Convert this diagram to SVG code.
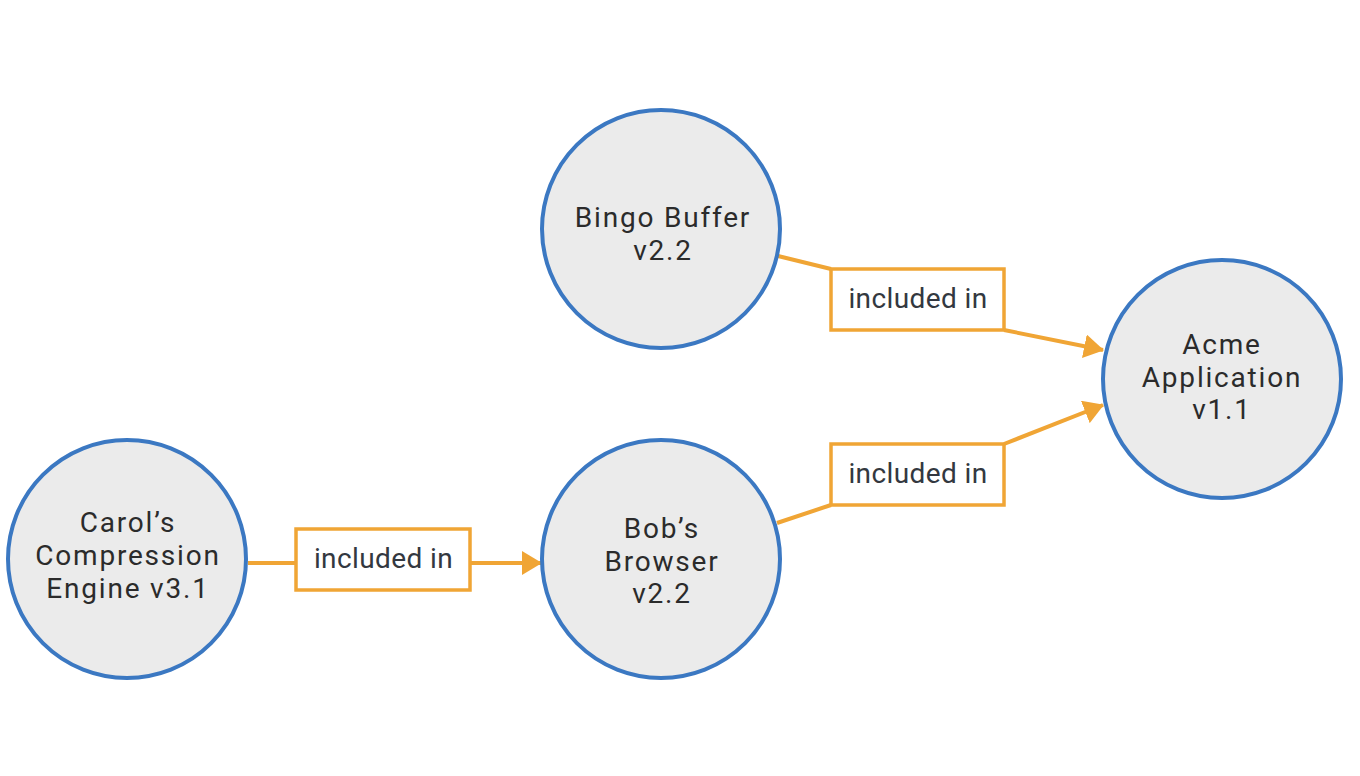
<svg xmlns="http://www.w3.org/2000/svg" width="1360" height="776" viewBox="0 0 1360 776">
  <style>
    .node circle { fill: #ebebeb; stroke: #3b78c2; stroke-width: 4; }
    .node text { font-family: Roboto, "Liberation Sans", sans-serif; font-size: 28px; letter-spacing: 1.8px; fill: #2b2b2b; text-anchor: middle; }
    .edge { fill: none; stroke: #f0a535; stroke-width: 4; }
    .lbl rect { fill: #ffffff; stroke: #f0a535; stroke-width: 3.5; }
    .lbl text { font-family: Roboto, "Liberation Sans", sans-serif; font-size: 28px; letter-spacing: 0.4px; fill: #333840; text-anchor: middle; }
  </style>
  <defs>
    <marker id="arrow" markerUnits="userSpaceOnUse" markerWidth="20" markerHeight="24" viewBox="0 0 20 24" refX="19" refY="12" orient="auto">
      <path d="M0,0 L20,12 L0,24 Z" fill="#f0a535"/>
    </marker>
  </defs>
  <rect width="1360" height="776" fill="#ffffff"/>

  <g id="connectors">
    <polyline class="edge" points="778,256 831,269"/>
    <polyline class="edge" points="1004,330 1103,350" marker-end="url(#arrow)"/>
    <polyline class="edge" points="777,523 831,505"/>
    <polyline class="edge" points="1004,444 1103,405" marker-end="url(#arrow)"/>
    <polyline class="edge" points="248,563 296,563"/>
    <polyline class="edge" points="470,563 541,563" marker-end="url(#arrow)"/>
    <g class="lbl">
      <rect x="831" y="269" width="173" height="61"/>
      <text x="918" y="308">included in</text>
    </g>
    <g class="lbl">
      <rect x="831" y="444" width="173" height="61"/>
      <text x="918" y="483">included in</text>
    </g>
    <g class="lbl">
      <rect x="296" y="529" width="174" height="61"/>
      <text x="383.5" y="568">included in</text>
    </g>
  </g>

  <g id="bingo" class="node">
    <circle cx="661" cy="229" r="119"/>
    <text x="663" y="227">Bingo Buffer</text>
    <text x="663" y="260">v2.2</text>
  </g>
  <g id="acme" class="node">
    <circle cx="1222" cy="379" r="119"/>
    <text x="1222" y="354">Acme</text>
    <text x="1222" y="387">Application</text>
    <text x="1222" y="419">v1.1</text>
  </g>
  <g id="carol" class="node">
    <circle cx="127" cy="559" r="119"/>
    <text x="128" y="532">Carol’s</text>
    <text x="128" y="565">Compression</text>
    <text x="128" y="598">Engine v3.1</text>
  </g>
  <g id="bob" class="node">
    <circle cx="661" cy="559" r="119"/>
    <text x="662" y="538">Bob’s</text>
    <text x="662" y="571">Browser</text>
    <text x="662" y="603">v2.2</text>
  </g>
</svg>
